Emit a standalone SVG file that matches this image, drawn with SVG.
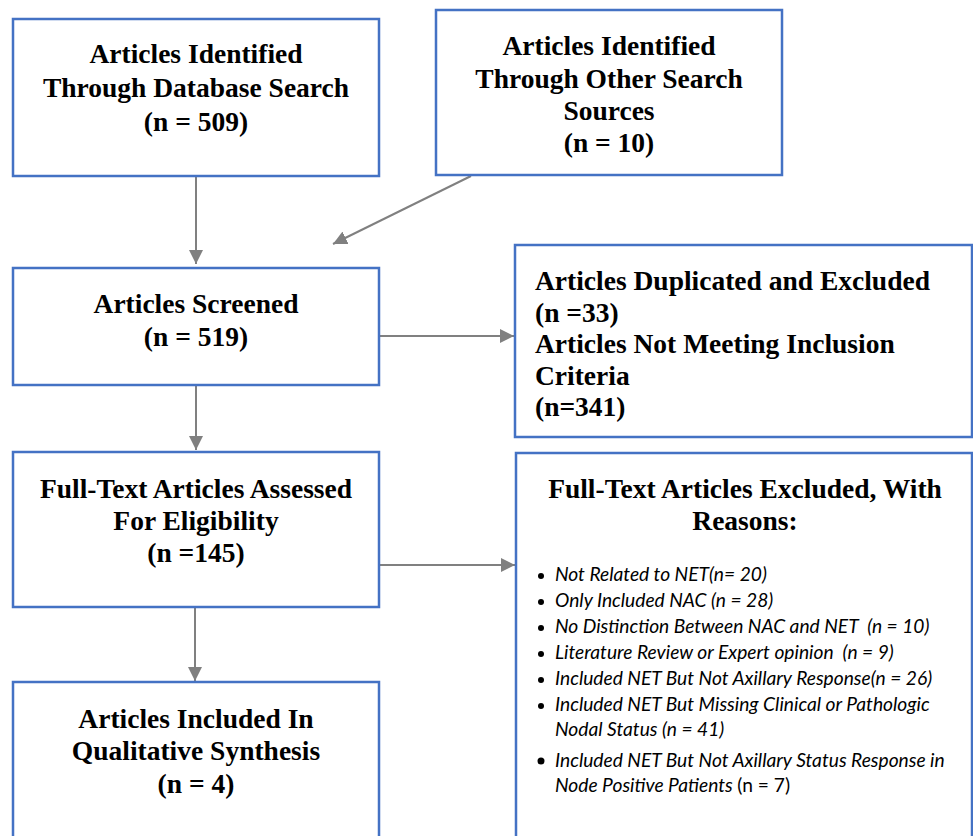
<svg xmlns="http://www.w3.org/2000/svg" width="973" height="836" viewBox="0 0 973 836">
<style>
.box{fill:#fff;stroke:#4472C4;stroke-width:2.5}
.t{font-family:"Liberation Serif","Times New Roman",serif;font-weight:bold;font-size:27.5px;fill:#000}
.c{text-anchor:middle}
.li{font-family:Lato,"Liberation Sans",sans-serif;font-style:italic;font-size:19.2px;fill:#000}
.ln{stroke:#808080;stroke-width:2;fill:none}
</style>
<defs>
<marker id="ah" viewBox="0 0 10 10" refX="10" refY="5" markerUnits="userSpaceOnUse" markerWidth="14" markerHeight="14" orient="auto">
<path d="M0,0 L10,5 L0,10 z" fill="#808080"/>
</marker>
</defs>
<rect width="973" height="836" fill="#fff"/>
<g id="connectors">
<line class="ln" x1="196" y1="176" x2="196" y2="264" marker-end="url(#ah)"/>
<line class="ln" x1="471" y1="176" x2="333" y2="244" marker-end="url(#ah)"/>
<line class="ln" x1="379" y1="336" x2="514" y2="336" marker-end="url(#ah)"/>
<line class="ln" x1="196" y1="385" x2="196" y2="450" marker-end="url(#ah)"/>
<line class="ln" x1="379" y1="565" x2="515" y2="565" marker-end="url(#ah)"/>
<line class="ln" x1="195" y1="607" x2="195" y2="681" marker-end="url(#ah)"/>
</g>
<g id="n1">
<rect class="box" x="13" y="19" width="366" height="157"/>
<text class="t c" x="196" y="63">Articles Identified</text>
<text class="t c" x="196" y="97">Through Database Search</text>
<text class="t c" x="196" y="131">(n = 509)</text>
</g>
<g id="n2">
<rect class="box" x="436" y="10" width="346" height="165"/>
<text class="t c" x="609" y="55">Articles Identified</text>
<text class="t c" x="609" y="88">Through Other Search</text>
<text class="t c" x="609" y="120">Sources</text>
<text class="t c" x="609" y="152">(n = 10)</text>
</g>
<g id="n3">
<rect class="box" x="13" y="268" width="366" height="117"/>
<text class="t c" x="196" y="313">Articles Screened</text>
<text class="t c" x="196" y="346">(n = 519)</text>
</g>
<g id="n4">
<rect class="box" x="515" y="245" width="457" height="192"/>
<text class="t" x="535" y="290">Articles Duplicated and Excluded</text>
<text class="t" x="535" y="322">(n =33)</text>
<text class="t" x="535" y="353">Articles Not Meeting Inclusion</text>
<text class="t" x="535" y="385">Criteria</text>
<text class="t" x="535" y="416">(n=341)</text>
</g>
<g id="n5">
<rect class="box" x="13" y="452" width="366" height="155"/>
<text class="t c" x="196" y="498">Full-Text Articles Assessed</text>
<text class="t c" x="196" y="530">For Eligibility</text>
<text class="t c" x="196" y="562">(n =145)</text>
</g>
<g id="n6">
<rect class="box" x="516" y="453" width="456" height="400"/>
<text class="t c" x="745" y="498">Full-Text Articles Excluded, With</text>
<text class="t c" x="745" y="530">Reasons:</text>
<g fill="#000">
<circle cx="541" cy="576" r="3"/>
<circle cx="541" cy="602" r="3"/>
<circle cx="541" cy="628" r="3"/>
<circle cx="541" cy="654" r="3"/>
<circle cx="541" cy="680" r="3"/>
<circle cx="541" cy="706" r="3"/>
<circle cx="541" cy="761" r="3.5"/>
</g>
<text class="li" x="555" y="581">Not Related to NET(n= 20)</text>
<text class="li" x="555" y="607">Only Included NAC (n = 28)</text>
<text class="li" x="555" y="633" xml:space="preserve">No Distinction Between NAC and NET  (n = 10)</text>
<text class="li" x="555" y="659" xml:space="preserve">Literature Review or Expert opinion  (n = 9)</text>
<text class="li" x="555" y="685">Included NET But Not Axillary Response(n = 26)</text>
<text class="li" x="555" y="711">Included NET But Missing Clinical or Pathologic</text>
<text class="li" x="555" y="736">Nodal Status (n = 41)</text>
<text class="li" x="555" y="767">Included NET But Not Axillary Status Response in</text>
<text class="li" x="555" y="792">Node Positive Patients <tspan font-style="normal">(n = 7)</tspan></text>
</g>
<g id="n7">
<rect class="box" x="13" y="682" width="366" height="170"/>
<text class="t c" x="196" y="728">Articles Included In</text>
<text class="t c" x="196" y="760">Qualitative Synthesis</text>
<text class="t c" x="196" y="793">(n = 4)</text>
</g>
</svg>
